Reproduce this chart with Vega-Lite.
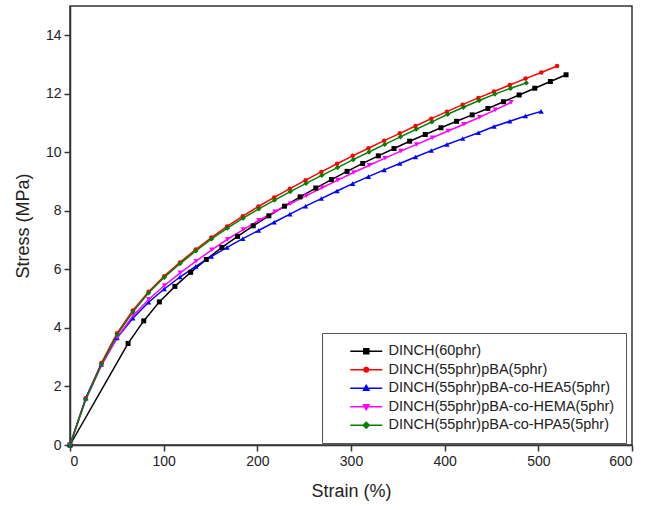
{
  "$schema": "https://vega.github.io/schema/vega-lite/v6.json",
  "width": 562,
  "height": 439,
  "autosize": {"type": "none"},
  "padding": {"left": 70, "top": 6, "right": 15, "bottom": 65},
  "background": "white",
  "config": {
    "view": {"stroke": "#333", "strokeWidth": 1.5},
    "axis": {"grid": false, "domainColor": "#333", "domainWidth": 1.5, "tickColor": "#333", "tickWidth": 1.5, "tickSize": 6,
      "labelFont": "Liberation Sans", "labelFontSize": 14, "labelColor": "#222", "labelPadding": 3,
      "titleFont": "Liberation Sans", "titleFontSize": 18, "titleFontWeight": "normal", "titleColor": "#222"}
  },
  "data": {"values": [
    {"series": "DINCH(60phr)", "strain": 0, "stress": 0},
    {"series": "DINCH(60phr)", "strain": 62, "stress": 3.47},
    {"series": "DINCH(60phr)", "strain": 78.7, "stress": 4.24},
    {"series": "DINCH(60phr)", "strain": 95.4, "stress": 4.89},
    {"series": "DINCH(60phr)", "strain": 112, "stress": 5.42},
    {"series": "DINCH(60phr)", "strain": 128.8, "stress": 5.9},
    {"series": "DINCH(60phr)", "strain": 145.5, "stress": 6.34},
    {"series": "DINCH(60phr)", "strain": 162.2, "stress": 6.75},
    {"series": "DINCH(60phr)", "strain": 178.9, "stress": 7.13},
    {"series": "DINCH(60phr)", "strain": 195.6, "stress": 7.49},
    {"series": "DINCH(60phr)", "strain": 212.3, "stress": 7.83},
    {"series": "DINCH(60phr)", "strain": 229, "stress": 8.16},
    {"series": "DINCH(60phr)", "strain": 245.7, "stress": 8.48},
    {"series": "DINCH(60phr)", "strain": 262.4, "stress": 8.78},
    {"series": "DINCH(60phr)", "strain": 279.1, "stress": 9.07},
    {"series": "DINCH(60phr)", "strain": 295.8, "stress": 9.35},
    {"series": "DINCH(60phr)", "strain": 312.5, "stress": 9.62},
    {"series": "DINCH(60phr)", "strain": 329.2, "stress": 9.88},
    {"series": "DINCH(60phr)", "strain": 345.9, "stress": 10.13},
    {"series": "DINCH(60phr)", "strain": 362.6, "stress": 10.38},
    {"series": "DINCH(60phr)", "strain": 379.3, "stress": 10.61},
    {"series": "DINCH(60phr)", "strain": 396, "stress": 10.84},
    {"series": "DINCH(60phr)", "strain": 412.7, "stress": 11.06},
    {"series": "DINCH(60phr)", "strain": 429.4, "stress": 11.28},
    {"series": "DINCH(60phr)", "strain": 446.1, "stress": 11.5},
    {"series": "DINCH(60phr)", "strain": 462.8, "stress": 11.73},
    {"series": "DINCH(60phr)", "strain": 479.5, "stress": 11.96},
    {"series": "DINCH(60phr)", "strain": 496.2, "stress": 12.19},
    {"series": "DINCH(60phr)", "strain": 512.9, "stress": 12.42},
    {"series": "DINCH(60phr)", "strain": 529.6, "stress": 12.65},

    {"series": "DINCH(55phr)pBA(5phr)", "strain": 0, "stress": 0},
    {"series": "DINCH(55phr)pBA(5phr)", "strain": 16.8, "stress": 1.6},
    {"series": "DINCH(55phr)pBA(5phr)", "strain": 33.5, "stress": 2.8},
    {"series": "DINCH(55phr)pBA(5phr)", "strain": 50.3, "stress": 3.82},
    {"series": "DINCH(55phr)pBA(5phr)", "strain": 67.1, "stress": 4.6},
    {"series": "DINCH(55phr)pBA(5phr)", "strain": 83.9, "stress": 5.24},
    {"series": "DINCH(55phr)pBA(5phr)", "strain": 100.6, "stress": 5.77},
    {"series": "DINCH(55phr)pBA(5phr)", "strain": 117.4, "stress": 6.24},
    {"series": "DINCH(55phr)pBA(5phr)", "strain": 134.2, "stress": 6.68},
    {"series": "DINCH(55phr)pBA(5phr)", "strain": 150.9, "stress": 7.09},
    {"series": "DINCH(55phr)pBA(5phr)", "strain": 167.7, "stress": 7.47},
    {"series": "DINCH(55phr)pBA(5phr)", "strain": 184.5, "stress": 7.82},
    {"series": "DINCH(55phr)pBA(5phr)", "strain": 201.2, "stress": 8.15},
    {"series": "DINCH(55phr)pBA(5phr)", "strain": 218, "stress": 8.46},
    {"series": "DINCH(55phr)pBA(5phr)", "strain": 234.8, "stress": 8.76},
    {"series": "DINCH(55phr)pBA(5phr)", "strain": 251.5, "stress": 9.05},
    {"series": "DINCH(55phr)pBA(5phr)", "strain": 268.3, "stress": 9.33},
    {"series": "DINCH(55phr)pBA(5phr)", "strain": 285.1, "stress": 9.61},
    {"series": "DINCH(55phr)pBA(5phr)", "strain": 301.8, "stress": 9.88},
    {"series": "DINCH(55phr)pBA(5phr)", "strain": 318.6, "stress": 10.14},
    {"series": "DINCH(55phr)pBA(5phr)", "strain": 335.4, "stress": 10.4},
    {"series": "DINCH(55phr)pBA(5phr)", "strain": 352.1, "stress": 10.65},
    {"series": "DINCH(55phr)pBA(5phr)", "strain": 368.9, "stress": 10.9},
    {"series": "DINCH(55phr)pBA(5phr)", "strain": 385.7, "stress": 11.15},
    {"series": "DINCH(55phr)pBA(5phr)", "strain": 402.4, "stress": 11.39},
    {"series": "DINCH(55phr)pBA(5phr)", "strain": 419.2, "stress": 11.63},
    {"series": "DINCH(55phr)pBA(5phr)", "strain": 436, "stress": 11.86},
    {"series": "DINCH(55phr)pBA(5phr)", "strain": 452.7, "stress": 12.08},
    {"series": "DINCH(55phr)pBA(5phr)", "strain": 469.5, "stress": 12.3},
    {"series": "DINCH(55phr)pBA(5phr)", "strain": 486.3, "stress": 12.52},
    {"series": "DINCH(55phr)pBA(5phr)", "strain": 503.1, "stress": 12.73},
    {"series": "DINCH(55phr)pBA(5phr)", "strain": 520, "stress": 12.95},

    {"series": "DINCH(55phr)pBA-co-HEA5(5phr)", "strain": 0, "stress": 0},
    {"series": "DINCH(55phr)pBA-co-HEA5(5phr)", "strain": 16.8, "stress": 1.6},
    {"series": "DINCH(55phr)pBA-co-HEA5(5phr)", "strain": 33.5, "stress": 2.75},
    {"series": "DINCH(55phr)pBA-co-HEA5(5phr)", "strain": 50.3, "stress": 3.66},
    {"series": "DINCH(55phr)pBA-co-HEA5(5phr)", "strain": 67.1, "stress": 4.33},
    {"series": "DINCH(55phr)pBA-co-HEA5(5phr)", "strain": 83.9, "stress": 4.88},
    {"series": "DINCH(55phr)pBA-co-HEA5(5phr)", "strain": 100.6, "stress": 5.33},
    {"series": "DINCH(55phr)pBA-co-HEA5(5phr)", "strain": 117.4, "stress": 5.74},
    {"series": "DINCH(55phr)pBA-co-HEA5(5phr)", "strain": 134.2, "stress": 6.1},
    {"series": "DINCH(55phr)pBA-co-HEA5(5phr)", "strain": 150.9, "stress": 6.44},
    {"series": "DINCH(55phr)pBA-co-HEA5(5phr)", "strain": 167.7, "stress": 6.75},
    {"series": "DINCH(55phr)pBA-co-HEA5(5phr)", "strain": 184.5, "stress": 7.05},
    {"series": "DINCH(55phr)pBA-co-HEA5(5phr)", "strain": 201.2, "stress": 7.33},
    {"series": "DINCH(55phr)pBA-co-HEA5(5phr)", "strain": 218, "stress": 7.61},
    {"series": "DINCH(55phr)pBA-co-HEA5(5phr)", "strain": 234.8, "stress": 7.89},
    {"series": "DINCH(55phr)pBA-co-HEA5(5phr)", "strain": 251.5, "stress": 8.16},
    {"series": "DINCH(55phr)pBA-co-HEA5(5phr)", "strain": 268.3, "stress": 8.42},
    {"series": "DINCH(55phr)pBA-co-HEA5(5phr)", "strain": 285.1, "stress": 8.68},
    {"series": "DINCH(55phr)pBA-co-HEA5(5phr)", "strain": 301.8, "stress": 8.93},
    {"series": "DINCH(55phr)pBA-co-HEA5(5phr)", "strain": 318.6, "stress": 9.17},
    {"series": "DINCH(55phr)pBA-co-HEA5(5phr)", "strain": 335.4, "stress": 9.4},
    {"series": "DINCH(55phr)pBA-co-HEA5(5phr)", "strain": 352.1, "stress": 9.62},
    {"series": "DINCH(55phr)pBA-co-HEA5(5phr)", "strain": 368.9, "stress": 9.84},
    {"series": "DINCH(55phr)pBA-co-HEA5(5phr)", "strain": 385.7, "stress": 10.06},
    {"series": "DINCH(55phr)pBA-co-HEA5(5phr)", "strain": 402.4, "stress": 10.27},
    {"series": "DINCH(55phr)pBA-co-HEA5(5phr)", "strain": 419.2, "stress": 10.47},
    {"series": "DINCH(55phr)pBA-co-HEA5(5phr)", "strain": 436, "stress": 10.67},
    {"series": "DINCH(55phr)pBA-co-HEA5(5phr)", "strain": 452.7, "stress": 10.88},
    {"series": "DINCH(55phr)pBA-co-HEA5(5phr)", "strain": 469.5, "stress": 11.06},
    {"series": "DINCH(55phr)pBA-co-HEA5(5phr)", "strain": 486.3, "stress": 11.24},
    {"series": "DINCH(55phr)pBA-co-HEA5(5phr)", "strain": 503, "stress": 11.4},

    {"series": "DINCH(55phr)pBA-co-HEMA(5phr)", "strain": 0, "stress": 0},
    {"series": "DINCH(55phr)pBA-co-HEMA(5phr)", "strain": 16.8, "stress": 1.55},
    {"series": "DINCH(55phr)pBA-co-HEMA(5phr)", "strain": 33.6, "stress": 2.72},
    {"series": "DINCH(55phr)pBA-co-HEMA(5phr)", "strain": 50.5, "stress": 3.68},
    {"series": "DINCH(55phr)pBA-co-HEMA(5phr)", "strain": 67.3, "stress": 4.42},
    {"series": "DINCH(55phr)pBA-co-HEMA(5phr)", "strain": 84.1, "stress": 4.98},
    {"series": "DINCH(55phr)pBA-co-HEMA(5phr)", "strain": 100.9, "stress": 5.45},
    {"series": "DINCH(55phr)pBA-co-HEMA(5phr)", "strain": 117.7, "stress": 5.88},
    {"series": "DINCH(55phr)pBA-co-HEMA(5phr)", "strain": 134.6, "stress": 6.28},
    {"series": "DINCH(55phr)pBA-co-HEMA(5phr)", "strain": 151.4, "stress": 6.67},
    {"series": "DINCH(55phr)pBA-co-HEMA(5phr)", "strain": 168.2, "stress": 7.03},
    {"series": "DINCH(55phr)pBA-co-HEMA(5phr)", "strain": 185, "stress": 7.36},
    {"series": "DINCH(55phr)pBA-co-HEMA(5phr)", "strain": 201.8, "stress": 7.68},
    {"series": "DINCH(55phr)pBA-co-HEMA(5phr)", "strain": 218.7, "stress": 7.97},
    {"series": "DINCH(55phr)pBA-co-HEMA(5phr)", "strain": 235.5, "stress": 8.25},
    {"series": "DINCH(55phr)pBA-co-HEMA(5phr)", "strain": 252.3, "stress": 8.52},
    {"series": "DINCH(55phr)pBA-co-HEMA(5phr)", "strain": 269.1, "stress": 8.79},
    {"series": "DINCH(55phr)pBA-co-HEMA(5phr)", "strain": 285.9, "stress": 9.05},
    {"series": "DINCH(55phr)pBA-co-HEMA(5phr)", "strain": 302.8, "stress": 9.31},
    {"series": "DINCH(55phr)pBA-co-HEMA(5phr)", "strain": 319.6, "stress": 9.56},
    {"series": "DINCH(55phr)pBA-co-HEMA(5phr)", "strain": 336.4, "stress": 9.8},
    {"series": "DINCH(55phr)pBA-co-HEMA(5phr)", "strain": 353.2, "stress": 10.04},
    {"series": "DINCH(55phr)pBA-co-HEMA(5phr)", "strain": 370, "stress": 10.27},
    {"series": "DINCH(55phr)pBA-co-HEMA(5phr)", "strain": 386.9, "stress": 10.5},
    {"series": "DINCH(55phr)pBA-co-HEMA(5phr)", "strain": 403.7, "stress": 10.73},
    {"series": "DINCH(55phr)pBA-co-HEMA(5phr)", "strain": 420.5, "stress": 10.96},
    {"series": "DINCH(55phr)pBA-co-HEMA(5phr)", "strain": 437.3, "stress": 11.2},
    {"series": "DINCH(55phr)pBA-co-HEMA(5phr)", "strain": 454.1, "stress": 11.45},
    {"series": "DINCH(55phr)pBA-co-HEMA(5phr)", "strain": 471, "stress": 11.71},

    {"series": "DINCH(55phr)pBA-co-HPA5(5phr)", "strain": 0, "stress": 0},
    {"series": "DINCH(55phr)pBA-co-HPA5(5phr)", "strain": 16.8, "stress": 1.56},
    {"series": "DINCH(55phr)pBA-co-HPA5(5phr)", "strain": 33.6, "stress": 2.76},
    {"series": "DINCH(55phr)pBA-co-HPA5(5phr)", "strain": 50.4, "stress": 3.77},
    {"series": "DINCH(55phr)pBA-co-HPA5(5phr)", "strain": 67.2, "stress": 4.55},
    {"series": "DINCH(55phr)pBA-co-HPA5(5phr)", "strain": 84, "stress": 5.2},
    {"series": "DINCH(55phr)pBA-co-HPA5(5phr)", "strain": 100.8, "stress": 5.73},
    {"series": "DINCH(55phr)pBA-co-HPA5(5phr)", "strain": 117.6, "stress": 6.2},
    {"series": "DINCH(55phr)pBA-co-HPA5(5phr)", "strain": 134.4, "stress": 6.63},
    {"series": "DINCH(55phr)pBA-co-HPA5(5phr)", "strain": 151.2, "stress": 7.04},
    {"series": "DINCH(55phr)pBA-co-HPA5(5phr)", "strain": 168, "stress": 7.41},
    {"series": "DINCH(55phr)pBA-co-HPA5(5phr)", "strain": 184.8, "stress": 7.75},
    {"series": "DINCH(55phr)pBA-co-HPA5(5phr)", "strain": 201.6, "stress": 8.07},
    {"series": "DINCH(55phr)pBA-co-HPA5(5phr)", "strain": 218.4, "stress": 8.37},
    {"series": "DINCH(55phr)pBA-co-HPA5(5phr)", "strain": 235.2, "stress": 8.66},
    {"series": "DINCH(55phr)pBA-co-HPA5(5phr)", "strain": 252, "stress": 8.94},
    {"series": "DINCH(55phr)pBA-co-HPA5(5phr)", "strain": 268.8, "stress": 9.21},
    {"series": "DINCH(55phr)pBA-co-HPA5(5phr)", "strain": 285.6, "stress": 9.48},
    {"series": "DINCH(55phr)pBA-co-HPA5(5phr)", "strain": 302.4, "stress": 9.75},
    {"series": "DINCH(55phr)pBA-co-HPA5(5phr)", "strain": 319.2, "stress": 10.01},
    {"series": "DINCH(55phr)pBA-co-HPA5(5phr)", "strain": 336, "stress": 10.27},
    {"series": "DINCH(55phr)pBA-co-HPA5(5phr)", "strain": 352.8, "stress": 10.53},
    {"series": "DINCH(55phr)pBA-co-HPA5(5phr)", "strain": 369.6, "stress": 10.79},
    {"series": "DINCH(55phr)pBA-co-HPA5(5phr)", "strain": 386.4, "stress": 11.04},
    {"series": "DINCH(55phr)pBA-co-HPA5(5phr)", "strain": 403.2, "stress": 11.3},
    {"series": "DINCH(55phr)pBA-co-HPA5(5phr)", "strain": 420, "stress": 11.54},
    {"series": "DINCH(55phr)pBA-co-HPA5(5phr)", "strain": 436.8, "stress": 11.77},
    {"series": "DINCH(55phr)pBA-co-HPA5(5phr)", "strain": 453.6, "stress": 11.99},
    {"series": "DINCH(55phr)pBA-co-HPA5(5phr)", "strain": 470.4, "stress": 12.19},
    {"series": "DINCH(55phr)pBA-co-HPA5(5phr)", "strain": 487.2, "stress": 12.37}
  ]},
  "encoding": {
    "x": {"field": "strain", "type": "quantitative", "scale": {"domain": [0, 600], "nice": false},
      "axis": {"values": [0, 100, 200, 300, 400, 500, 600], "title": "Strain (%)", "titlePadding": 14}},
    "y": {"field": "stress", "type": "quantitative", "scale": {"domain": [0, 15], "nice": false},
      "axis": {"values": [0, 2, 4, 6, 8, 10, 12, 14], "title": "Stress (MPa)", "titlePadding": 13}},
    "color": {"field": "series", "type": "nominal",
      "scale": {"domain": ["DINCH(60phr)", "DINCH(55phr)pBA(5phr)", "DINCH(55phr)pBA-co-HEA5(5phr)", "DINCH(55phr)pBA-co-HEMA(5phr)", "DINCH(55phr)pBA-co-HPA5(5phr)"],
                "range": ["#000000", "#ff0000", "#0000ff", "#ff00ff", "#008000"]},
      "legend": {"title": null, "orient": "none", "legendX": 252, "legendY": 327,
        "strokeColor": "#555", "fillColor": "white", "padding": 11,
        "symbolSize": 100, "symbolStrokeWidth": 1.5, "symbolOffset": 26,
        "labelFont": "Liberation Sans", "labelFontSize": 14.5, "labelColor": "#222", "labelOffset": 15, "labelLimit": 400,
        "rowPadding": 3.5,
        "encode": {"symbols": {"update": {
          "shape": {"signal": "datum.value === 'DINCH(60phr)' ? 'M-3.2,0H3.2M-0.5,-0.5H0.5V0.5H-0.5Z' : datum.value === 'DINCH(55phr)pBA(5phr)' ? 'M-3.2,0H3.2M-0.45,0A0.45,0.45 0 1,0 0.45,0A0.45,0.45 0 1,0 -0.45,0Z' : datum.value === 'DINCH(55phr)pBA-co-HEA5(5phr)' ? 'M-3.2,0H3.2M0,-0.6L0.55,0.4L-0.55,0.4Z' : datum.value === 'DINCH(55phr)pBA-co-HEMA(5phr)' ? 'M-3.2,0H3.2M0,0.6L0.55,-0.4L-0.55,-0.4Z' : 'M-3.2,0H3.2M0,-0.6L0.6,0L0,0.6L-0.6,0Z'"},
          "fill": {"signal": "scale('color', datum.value)"},
          "stroke": {"signal": "scale('color', datum.value)"},
          "strokeWidth": {"value": 1.5},
          "opacity": {"value": 1},
          "fillOpacity": {"value": 1}
        }}}
      }}
  },
  "layer": [
    {"mark": {"type": "line", "strokeWidth": 1.5}},
    {"transform": [{"filter": "datum.series === 'DINCH(60phr)'"}],
     "mark": {"type": "point", "filled": true, "size": 25, "opacity": 1, "shape": "square"}},
    {"transform": [{"filter": "datum.series === 'DINCH(55phr)pBA(5phr)'"}],
     "mark": {"type": "point", "filled": true, "size": 20, "opacity": 1, "shape": "circle"}},
    {"transform": [{"filter": "datum.series === 'DINCH(55phr)pBA-co-HEA5(5phr)'"}],
     "mark": {"type": "point", "filled": true, "size": 28, "opacity": 1, "shape": "triangle-up"}},
    {"transform": [{"filter": "datum.series === 'DINCH(55phr)pBA-co-HEMA(5phr)'"}],
     "mark": {"type": "point", "filled": true, "size": 28, "opacity": 1, "shape": "triangle-down"}},
    {"transform": [{"filter": "datum.series === 'DINCH(55phr)pBA-co-HPA5(5phr)'"}],
     "mark": {"type": "point", "filled": true, "size": 28, "opacity": 1, "shape": "diamond"}}
  ]
}
